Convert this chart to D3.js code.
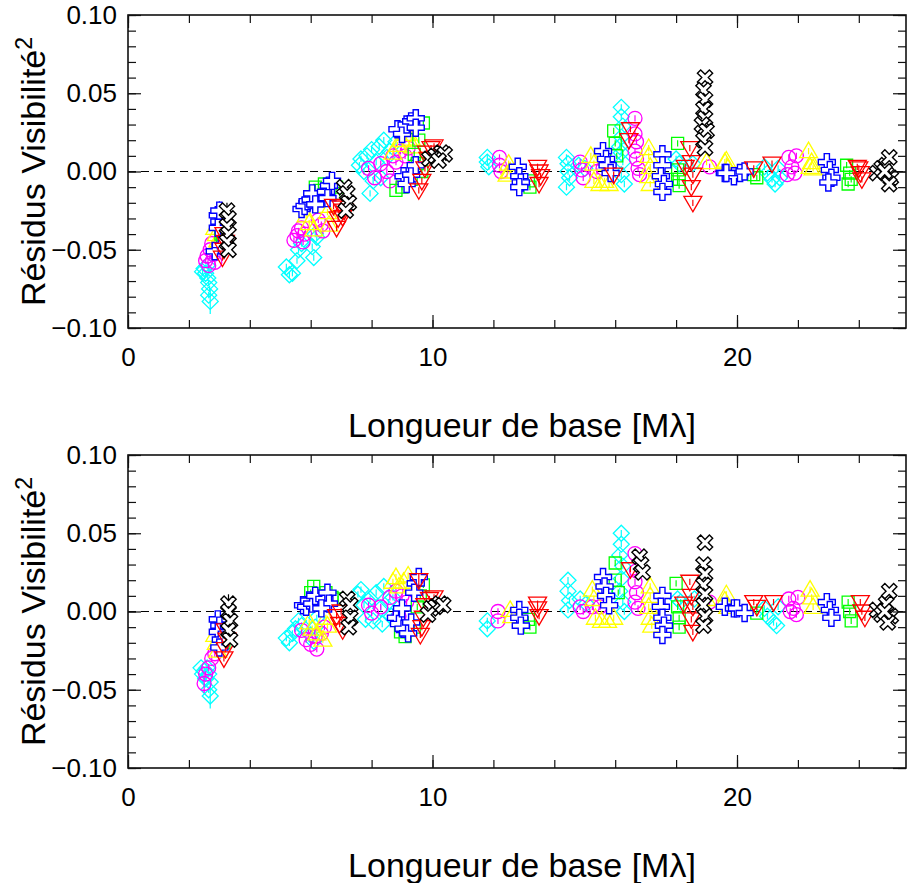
<!DOCTYPE html>
<html>
<head>
<meta charset="utf-8">
<script src="https://cdn.jsdelivr.net/npm/d3@7"></script>
<style>
  body { margin: 0; background: #fff; }
  svg { display: block; font-family: "Liberation Sans", Arial, sans-serif; }
</style>
</head>
<body>
<div id="chart"></div>
<script>
// series order: cyan diamonds .. black crosses (one per spectral channel)
var seriesNames = ["cyan", "magenta", "yellow", "green", "blue", "red", "black"];
var seriesColors = ["#00ffff", "#ff00ff", "#ffff00", "#00ff00", "#0000ff", "#ff0000", "#000000"];
var seriesSymbols = ["diamond", "circle", "triangleUp", "square", "plus", "triangleDown", "cross"];

var yTickValues = [-0.10, -0.05, 0.00, 0.05, 0.10];
var xTickValues = [0, 10, 20];
var xLabel = "Longueur de base [M\u03bb]";
var yLabel = "Résidus Visibilité";

// [baseline Mλ, residual, (optional error)]
var topCyan = [[2.45,-0.064],[2.50,-0.062],[2.55,-0.065],[2.60,-0.060],[2.62,-0.068],[2.65,-0.071],[2.68,-0.075],[2.65,-0.079],[2.70,-0.083,0.008],
  [5.20,-0.061],[5.30,-0.066],[5.40,-0.065],[5.55,-0.057],[5.60,-0.050],[5.70,-0.046],[6.05,-0.048],[6.10,-0.055],[6.15,-0.040],[6.20,-0.042],
  [7.60,0.004],[7.65,0.008],[7.75,0.000],[7.85,0.010],[7.95,-0.014],[8.00,0.014],[8.05,-0.006],[8.15,0.006],[8.25,0.016],[8.40,0.020],[8.50,0.009],[8.60,0.013],[8.80,0.019],[8.30,-0.004],
  [11.80,0.009],[11.80,0.006],[11.85,0.003],
  [14.40,0.009],[14.45,0.005],[14.45,0.000],[14.50,-0.004],[14.40,-0.010],[14.80,0.004],[15.00,0.002],
  [16.20,0.041],[16.20,0.035],[16.25,0.029],[16.20,0.022],[16.15,0.016],[16.20,0.012],[16.25,0.006],[16.20,-0.002],[16.30,-0.008],
  [18.00,0.008],[18.10,0.005],[18.55,0.005],
  [20.90,0.003],[21.00,-0.001],[21.15,-0.005],[21.25,-0.008],[21.35,0.002],[21.40,-0.004]];
var topMagenta = [[2.55,-0.057],[2.60,-0.054],[2.70,-0.050],[2.75,-0.046],[2.80,-0.053],[2.85,-0.058],[2.65,-0.060],
  [5.45,-0.044],[5.55,-0.041],[5.60,-0.038],[5.70,-0.036],[5.75,-0.045],[5.80,-0.040],[6.25,-0.031],[6.35,-0.034],[6.40,-0.038],
  [7.90,0.002],[8.10,-0.004],[8.30,0.005],[8.50,0.000],[8.70,0.010],[8.80,0.006],[8.95,0.013],[9.10,0.010],[9.20,0.015],[8.60,-0.006],
  [12.20,0.009],[12.20,0.004],[12.25,0.000],
  [14.85,0.006],[14.90,0.001],[14.95,-0.004],[15.40,0.000],[15.60,0.002],
  [16.65,0.034],[16.65,0.024],[16.70,0.019],[16.65,0.013],[16.70,0.008],[16.75,0.002],[16.80,-0.002],[19.10,0.003],
  [21.70,0.009],[21.80,0.003],[21.90,-0.001],[21.95,0.010],[21.65,-0.002]];
var topYellow = [[2.85,-0.036],[2.90,-0.040],[2.95,-0.044],[2.90,-0.048],
  [5.85,-0.028],[5.95,-0.033],[6.10,-0.037],[6.45,-0.022],[6.55,-0.026],[6.60,-0.034],
  [8.70,0.012],[8.85,0.017],[9.00,0.020],[9.15,0.024],[9.30,0.021],[9.35,0.016],
  [12.50,0.005],[12.55,0.000],[12.45,-0.002],
  [15.20,0.010],[15.30,0.005],[15.30,-0.006],[15.50,-0.008],[15.65,-0.006],[15.80,-0.008],
  [17.10,0.015],[17.10,0.010],[17.15,0.003],[17.10,-0.003],[17.15,-0.008],[19.00,0.006],[19.60,0.006],
  [19.65,0.007],[19.70,0.002],[22.35,0.013],[22.45,0.006],[22.50,0.002],[22.40,0.003]];
var topGreen = [[3.05,-0.040],[3.10,-0.043],[3.05,-0.037],
  [6.15,-0.010],[6.30,-0.012],[6.45,-0.008],[6.60,-0.011],[6.85,-0.010],[6.95,-0.014],
  [8.80,-0.012],[9.00,-0.010],[9.20,0.028],[9.70,0.031],[9.55,0.020],[9.40,0.011],[9.50,0.005],[9.65,0.000],[9.30,-0.005],
  [13.15,-0.006],[13.20,-0.010],
  [15.95,0.026],[16.00,0.018],[16.05,0.010],[18.05,0.018],[18.05,0.001],[18.10,-0.005],[18.10,-0.009],[17.85,-0.005],
  [20.65,-0.004],[20.55,-0.002],[23.60,0.004],[23.70,-0.001],[23.75,-0.005],[23.65,-0.008]];
var topBlue = [[2.95,-0.028],[3.00,-0.032],[3.00,-0.025,0.006],[2.95,-0.036],[2.85,-0.051],[3.05,-0.047],
  [5.70,-0.024],[5.80,-0.022],[5.90,-0.019],[6.00,-0.018],[6.05,-0.014],[6.15,-0.021],[6.50,-0.013],[6.60,-0.009],[6.70,-0.006],[6.55,-0.017],
  [8.85,0.027],[9.00,0.024],[9.15,0.030],[9.30,0.032],[9.45,0.034],[9.45,0.028],[9.05,-0.003],[9.15,-0.008],[9.30,-0.002],[9.45,0.004],
  [12.80,0.003],[12.85,-0.003],[12.90,-0.007],[12.85,-0.010],
  [15.60,0.013],[15.70,0.008],[15.75,0.004],[15.85,-0.001],
  [17.55,0.011],[17.55,0.004],[17.50,-0.003],[17.60,-0.008],[17.55,-0.013],[19.60,-0.001],[19.90,-0.003],[20.10,-0.001],
  [19.65,-0.001],[20.25,0.000],[22.95,0.006],[23.05,0.001],[23.10,-0.004],[23.00,-0.007]];
var topRed = [[3.15,-0.040],[3.20,-0.045],[3.15,-0.050],[3.10,-0.055],
  [6.75,-0.022],[7.00,-0.023],[6.85,-0.036],[7.05,-0.029],[6.90,-0.030],[7.10,-0.025],
  [9.80,0.012],[9.95,0.015],[10.05,0.016],[9.75,0.002],[9.65,-0.006],[9.55,-0.012],[9.85,0.008],
  [13.45,0.003],[13.50,0.000],[13.55,-0.003],[13.50,-0.008],
  [16.50,0.027],[16.45,0.020],[18.45,0.015],[18.50,0.006],[18.55,-0.002],[18.50,-0.010],[18.55,-0.020],[15.95,-0.002],[18.30,0.003],
  [20.55,0.002],[21.15,0.005],[23.95,0.003],[24.05,-0.001],[24.10,-0.005],[24.00,0.002]];
var topBlack = [[3.25,-0.025,0.005],[3.30,-0.030],[3.25,-0.035],[3.30,-0.040],[3.25,-0.045],[3.30,-0.050],
  [7.10,-0.010],[7.20,-0.014],[7.25,-0.020],[7.15,-0.025],
  [9.90,0.008],[10.10,0.010],[10.30,0.012],[10.40,0.011],[10.20,0.007],
  [18.95,0.060],[18.90,0.052],[18.95,0.046],[18.90,0.040],[18.95,0.034],[18.85,0.030],[19.00,0.026],[18.90,0.020],[18.95,0.015],
  [24.60,-0.001],[24.75,0.002],[24.90,0.004],[25.00,0.009],[25.05,-0.004],[25.00,-0.008],[24.85,0.000]];

var botCyan = [[2.40,-0.036],[2.45,-0.040],[2.50,-0.038],[2.55,-0.043],[2.60,-0.036],[2.65,-0.040],[2.70,-0.045],[2.65,-0.050],[2.70,-0.054,0.008],
  [5.20,-0.017],[5.30,-0.020],[5.40,-0.014],[5.50,-0.011],[5.60,-0.006],[5.70,-0.009],[6.10,-0.019],[6.15,-0.010],[6.20,-0.004],[6.00,-0.015],
  [7.55,0.011],[7.65,0.014],[7.75,0.004],[7.80,-0.005],[7.95,0.008],[8.05,-0.006],[8.15,0.012],[8.30,0.002],[8.40,0.016],[8.55,0.006],[8.70,0.009],[8.65,-0.003],[8.35,-0.008],
  [11.80,-0.006],[11.80,-0.011],
  [14.45,0.020],[14.45,0.013],[14.50,0.007],[14.45,0.001],[14.85,0.008],[15.05,0.005],
  [16.20,0.050],[16.20,0.043],[16.15,0.036],[16.25,0.029],[16.20,0.021],[16.15,0.013],[16.25,0.006],[16.30,0.000],
  [18.05,0.008],[18.60,0.008],[18.15,0.006],
  [20.90,0.002],[21.00,-0.003],[21.20,-0.007],[21.30,-0.009],[21.35,0.003]];
var botMagenta = [[2.50,-0.046,0.006],[2.55,-0.040],[2.65,-0.036],[2.75,-0.030],[2.85,-0.027],
  [5.70,-0.012],[5.85,-0.018],[6.00,-0.021],[6.20,-0.024],[6.35,-0.014],[6.45,-0.010],[6.15,-0.016],
  [7.90,0.004],[8.00,-0.001],[8.30,0.003],[8.60,0.009],[8.80,0.013],[9.00,0.010],[9.15,0.006],[8.90,-0.003],
  [12.15,0.000],[12.15,-0.006],
  [14.85,0.003],[14.95,0.000],[15.25,0.003],[15.50,0.003],
  [16.65,0.037],[16.70,0.026],[16.65,0.019],[16.70,0.012],[16.65,0.006],[16.75,0.002],[19.10,0.006],
  [21.70,0.008],[21.85,0.002],[21.95,-0.002],[22.00,0.009],[21.75,0.000]];
var botYellow = [[2.85,-0.015],[2.90,-0.020],[2.95,-0.025],
  [5.95,-0.007],[6.05,-0.011],[6.20,-0.014],[6.50,-0.004],[6.55,-0.009],[6.40,-0.018],
  [8.70,0.019],[8.80,0.022],[8.90,0.016],[9.05,0.019],[9.20,0.023],[9.35,0.017],
  [12.55,0.001],[12.60,-0.003],
  [15.25,0.014],[15.30,0.008],[15.35,-0.004],[15.55,-0.006],[15.75,-0.006],[15.95,-0.004],
  [17.15,0.016],[17.15,0.010],[17.10,0.003],[17.15,-0.004],[17.20,-0.009],[19.00,0.008],[19.60,0.007],
  [19.65,0.011],[19.70,0.003],[22.40,0.014],[22.45,0.009],[22.50,0.003]];
var botGreen = [[3.10,-0.010],[3.10,-0.015],[3.15,-0.020],
  [6.00,0.012],[6.10,0.016,0.004],[6.30,0.010],[6.50,0.012],[6.70,0.009],[6.90,0.008],
  [8.95,-0.013],[9.10,-0.016],[9.50,0.020],[9.70,0.017],[9.60,0.010],[9.50,0.003],[9.40,-0.010],
  [13.15,-0.005],[13.20,-0.010],
  [16.00,0.031],[16.00,0.020],[18.00,0.018],[18.05,0.003],[18.10,-0.004],[18.10,-0.010],[16.10,0.012],
  [20.65,-0.001],[23.65,0.006],[23.70,0.000],[23.75,-0.006]];
var botBlue = [[2.95,-0.005],[3.00,-0.009],[2.95,-0.013],[3.05,-0.018],[3.00,-0.023],
  [5.75,0.004],[5.85,0.003],[5.95,0.007],[6.05,0.005],[6.15,0.010],[6.45,0.008],[6.55,0.012],[6.60,0.005],[6.35,0.002],
  [8.80,-0.004],[8.90,-0.008],[9.05,-0.011],[9.20,-0.014],[9.30,-0.007],[9.45,0.018],[9.55,0.022],[9.40,0.012],[9.00,0.002],
  [12.85,0.001],[12.85,-0.004],[12.90,-0.009],
  [15.60,0.022],[15.65,0.016],[15.70,0.010],[15.80,0.004],
  [17.55,0.010],[17.50,0.003],[17.55,-0.004],[17.60,-0.009],[17.55,-0.015],[19.60,0.003],[19.90,0.002],
  [20.00,0.002],[20.25,-0.001],[22.95,0.006],[23.05,0.001],[23.10,-0.004]];
var botRed = [[3.20,-0.012],[3.25,-0.018],[3.20,-0.024],[3.15,-0.030],
  [6.85,-0.003],[6.95,-0.008],[7.05,-0.012],[7.00,0.000],
  [9.75,0.004],[9.90,0.008],[10.05,0.009],[9.70,-0.004],[9.65,-0.010],[9.60,-0.015],[9.55,0.020,0.004],
  [13.45,0.005],[13.45,0.002],[13.50,-0.003],
  [16.50,0.027],[18.45,0.019],[18.50,0.010],[18.55,0.003],[18.50,-0.005],[18.55,-0.013],[18.25,0.005],
  [20.55,0.006],[20.65,0.003],[21.20,0.006],[24.05,0.006],[24.10,0.000],[24.20,-0.004]];
var botBlack = [[3.30,0.005,0.006],[3.30,0.000],[3.35,-0.006],[3.30,-0.012],[3.35,-0.018],
  [7.20,0.008],[7.30,0.004],[7.30,-0.004],[7.25,-0.010],
  [9.95,0.002],[10.10,0.003],[10.25,0.005],[10.35,0.004],[9.85,-0.002],
  [16.80,0.035],[16.85,0.030],[16.90,0.025],
  [18.95,0.044],[18.90,0.030],[18.95,0.024],[18.90,0.017],[18.95,0.011],[18.90,0.004],[18.95,-0.003],[18.90,-0.009],
  [24.60,0.001],[24.75,-0.002],[24.90,0.005],[25.00,0.013],[25.05,-0.003],[24.95,-0.007],[24.85,0.000]];

var topSeries = [topCyan, topMagenta, topYellow, topGreen, topBlue, topRed, topBlack];
var botSeries = [botCyan, botMagenta, botYellow, botGreen, botBlue, botRed, botBlack];

// general layout
var width = 907, height = 883;
var left = 128, right = 906, panelH = 313;
var panels = [
  { top: 15, series: topSeries, titleY: 437 },
  { top: 455, series: botSeries, titleY: 877 }
];

var svg = d3.select("#chart").append("svg")
  .attr("width", width)
  .attr("height", height);

var x = d3.scaleLinear().domain([0, 25.55]).range([left, right]);

// outline of a plus with arm half-length a and half-width w
function plusPath(a, w) {
  return "M" + (-w) + "," + (-a) + "H" + w + "V" + (-w) + "H" + a + "V" + w + "H" + w +
    "V" + a + "H" + (-w) + "V" + w + "H" + (-a) + "V" + (-w) + "H" + (-w) + "Z";
}

// symbol shapes, centred on 0,0
function symbolPath(kind) {
  switch (kind) {
    case "diamond": return "M0,-8L8,0L0,8L-8,0Z";
    case "square": return "M-6,-6H6V6H-6Z";
    case "triangleUp": return "M0,-9L9,6.5L-9,6.5Z";
    case "triangleDown": return "M0,9L9,-6.5L-9,-6.5Z";
    case "plus": return plusPath(8.5, 2.6);
    case "cross": return plusPath(8.5, 2.3);
  }
  return "";
}

panels.forEach(function (p) {
  var y = d3.scaleLinear().domain([-0.10, 0.10]).range([p.top + panelH, p.top]);
  var g = svg.append("g");

  // dashed zero line
  g.append("line")
    .attr("x1", left).attr("x2", right)
    .attr("y1", y(0)).attr("y2", y(0))
    .style("stroke", "#000")
    .style("stroke-width", 1.1)
    .style("stroke-dasharray", "8,5");

  // points with error bars
  p.series.forEach(function (pts, si) {
    var color = seriesColors[si];
    var sg = g.append("g").attr("class", "series-" + seriesNames[si]);
    sg.selectAll("line.err")
      .data(pts)
      .enter()
      .append("line")
      .attr("class", "err")
      .attr("x1", function (d) { return x(d[0]); })
      .attr("x2", function (d) { return x(d[0]); })
      .attr("y1", function (d) { return y(d[1] - (d[2] || 0.002)); })
      .attr("y2", function (d) { return y(d[1] + (d[2] || 0.002)); })
      .style("stroke", color)
      .style("stroke-width", 1.2);
    var kind = seriesSymbols[si];
    var filled = (kind === "plus" || kind === "cross");
    var path = symbolPath(kind);
    sg.selectAll(".mark")
      .data(pts)
      .enter()
      .append(kind === "circle" ? "circle" : "path")
      .attr("class", "mark")
      .each(function (d) {
        var el = d3.select(this);
        if (kind === "circle") {
          el.attr("cx", x(d[0])).attr("cy", y(d[1])).attr("r", 7);
        } else {
          el.attr("d", path)
            .attr("transform", "translate(" + x(d[0]) + "," + y(d[1]) + ")" + (kind === "cross" ? " rotate(45)" : ""));
        }
      })
      .style("fill", filled ? "#fff" : "none")
      .style("stroke", color)
      .style("stroke-width", filled ? 1.4 : 1.3);
  });

  // frame
  g.append("rect")
    .attr("x", left).attr("y", p.top)
    .attr("width", right - left).attr("height", panelH)
    .style("fill", "none")
    .style("stroke", "#111")
    .style("stroke-width", 1.6);

  // axes, ticks pointing inward
  var yMinor = d3.range(-10, 11).map(function (i) { return i / 100; });
  var xMinor = d3.range(0, 26, 2);

  function styleAxis(sel, labels) {
    sel.select(".domain").remove();
    sel.selectAll(".tick line").style("stroke", "#111").style("stroke-width", 1.2);
    sel.selectAll("text")
      .style("font-size", labels ? "26px" : "0px")
      .style("fill", "#000")
      .style("font-family", "\"Liberation Sans\", Arial, sans-serif");
  }

  var fmt = d3.format(".2f");
  g.append("g").attr("transform", "translate(" + left + ",0)")
    .call(d3.axisLeft(y).tickValues(yMinor).tickSize(-8).tickFormat(""))
    .call(styleAxis, false);
  g.append("g").attr("transform", "translate(" + left + ",0)")
    .call(d3.axisLeft(y).tickValues(yTickValues).tickSize(-13).tickPadding(11).tickFormat(fmt))
    .call(styleAxis, true);
  g.append("g").attr("transform", "translate(" + right + ",0)")
    .call(d3.axisRight(y).tickValues(yMinor).tickSize(-8).tickFormat(""))
    .call(styleAxis, false);
  g.append("g").attr("transform", "translate(" + right + ",0)")
    .call(d3.axisRight(y).tickValues(yTickValues).tickSize(-13).tickFormat(""))
    .call(styleAxis, false);

  g.append("g").attr("transform", "translate(0," + (p.top + panelH) + ")")
    .call(d3.axisBottom(x).tickValues(xMinor).tickSize(-8).tickFormat(""))
    .call(styleAxis, false);
  g.append("g").attr("transform", "translate(0," + (p.top + panelH) + ")")
    .call(d3.axisBottom(x).tickValues(xTickValues).tickSize(-13).tickPadding(19.5).tickFormat(d3.format("d")))
    .call(styleAxis, true);
  g.append("g").attr("transform", "translate(0," + p.top + ")")
    .call(d3.axisTop(x).tickValues(xMinor).tickSize(-8).tickFormat(""))
    .call(styleAxis, false);
  g.append("g").attr("transform", "translate(0," + p.top + ")")
    .call(d3.axisTop(x).tickValues(xTickValues).tickSize(-13).tickFormat(""))
    .call(styleAxis, false);

  // axis titles
  g.append("text")
    .attr("x", 522)
    .attr("y", p.titleY)
    .attr("text-anchor", "middle")
    .style("font-size", "34px")
    .text(xLabel);

  var yt = g.append("text")
    .attr("transform", "translate(45," + (p.top + panelH / 2) + ") rotate(-90)")
    .attr("text-anchor", "middle")
    .style("font-size", "34px");
  yt.append("tspan").text(yLabel);
  yt.append("tspan").attr("dy", -13).style("font-size", "23px").text("2");
});
</script>
</body>
</html>
